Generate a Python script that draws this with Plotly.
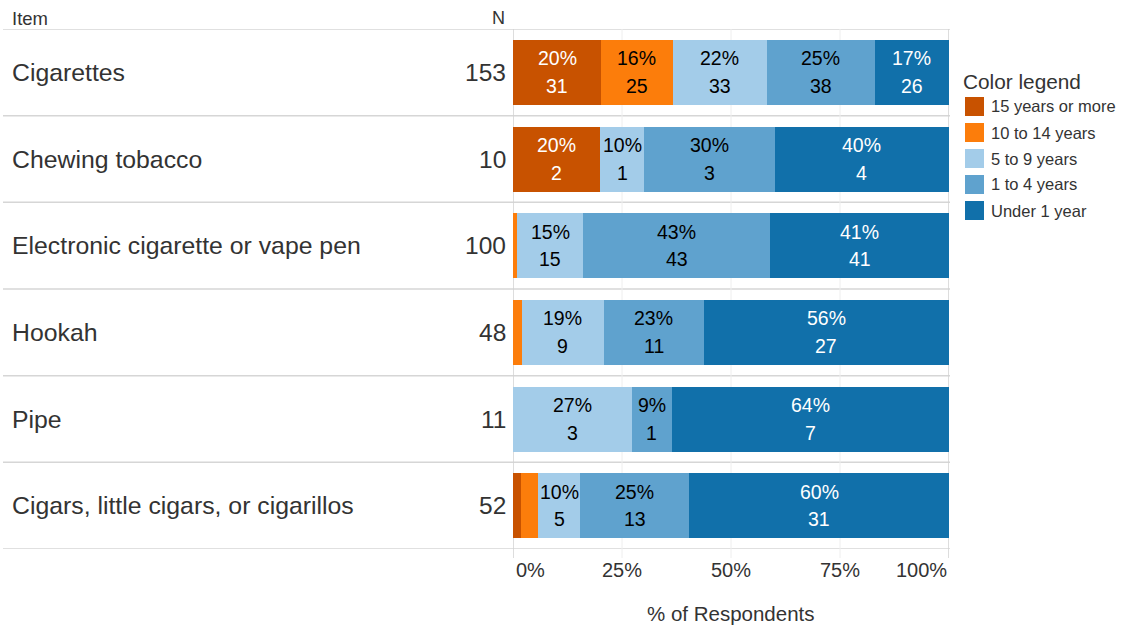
import plotly.graph_objects as go

# --- data -------------------------------------------------------------
items = [
    "Cigarettes",
    "Chewing tobacco",
    "Electronic cigarette or vape pen",
    "Hookah",
    "Pipe",
    "Cigars, little cigars, or cigarillos",
]
n_resp = [153, 10, 100, 48, 11, 52]

groups = ["15 years or more", "10 to 14 years", "5 to 9 years", "1 to 4 years", "Under 1 year"]
yrs_15_plus = [31, 2, 0, 0, 0, 1]
yrs_10_14 = [25, 0, 1, 1, 0, 2]
yrs_5_9 = [33, 1, 15, 9, 3, 5]
yrs_1_4 = [38, 3, 43, 11, 1, 13]
yrs_under_1 = [26, 4, 41, 27, 7, 31]

x_ticks = [0, 25, 50, 75, 100]
x_tick_text = ["0%", "25%", "50%", "75%", "100%"]

# --- styling ----------------------------------------------------------
colors = ["#c85200", "#fc7d0b", "#a3cce9", "#5fa2ce", "#1170aa"]
label_colors = ["#ffffff", "#000000", "#000000", "#000000", "#ffffff"]
FONT = "Liberation Sans, Arial, sans-serif"
TXT = "#333333"
W, H = 1123, 627


def px_x(p):
    return p / W


def px_y(p):
    return 1 - p / H


def note(**kw):
    kw.setdefault("showarrow", False)
    kw.setdefault("yanchor", "middle")
    kw.setdefault("xanchor", "center")
    return kw


series = [yrs_15_plus, yrs_10_14, yrs_5_9, yrs_1_4, yrs_under_1]

fig = go.Figure()
annotations = []
cum = [0.0] * len(items)
for g, vals, col, lcol in zip(groups, series, colors, label_colors):
    share = [v / n * 100 for v, n in zip(vals, n_resp)]
    fig.add_trace(go.Bar(
        y=items, x=share, orientation="h", name=g,
        marker=dict(color=col, line=dict(width=0)),
        width=0.75, showlegend=False,
        customdata=vals,
        hovertemplate="%{y}<br>" + g + ": %{x:.0f}% (%{customdata})<extra></extra>",
    ))
    for i, (s, v) in enumerate(zip(share, vals)):
        if s >= 5:
            xc = cum[i] + s / 2
            lab_font = dict(size=19.5, color=lcol, family=FONT)
            annotations.append(note(x=xc, y=items[i], xref="x", yref="y", text=f"{s:.0f}%",
                                    yshift=14, font=lab_font))
            annotations.append(note(x=xc, y=items[i], xref="x", yref="y", text=str(v),
                                    yshift=-13.5, font=lab_font))
        cum[i] += s

shapes = []
# row separators
for i in range(len(items) + 1):
    shapes.append(dict(type="line", xref="paper", yref="y", x0=px_x(3), x1=px_x(950),
                       y0=i - 0.5, y1=i - 0.5, line=dict(color="#d6d6d6", width=1.5),
                       layer="below"))
# vertical grid
for t in x_ticks:
    edge = t in (x_ticks[0], x_ticks[-1])
    shapes.append(dict(type="line", xref="x", yref="paper", x0=t, x1=t,
                       y0=px_y(558), y1=px_y(29),
                       line=dict(color="#d2d2d2" if edge else "#eeeeee", width=1.5 if edge else 1),
                       layer="below"))

# item names and N column
for it, n in zip(items, n_resp):
    annotations.append(note(x=px_x(10), y=it, xref="paper", yref="y", text=it, xanchor="left",
                            font=dict(size=24.8, color=TXT, family=FONT)))
    annotations.append(note(x=px_x(508), y=it, xref="paper", yref="y", text=str(n), xanchor="right",
                            font=dict(size=24.5, color=TXT, family=FONT)))

# column headers
annotations.append(note(x=px_x(10), y=px_y(18), xref="paper", yref="paper", text="Item",
                        xanchor="left", font=dict(size=18.5, color=TXT, family=FONT)))
annotations.append(note(x=px_x(507), y=px_y(18), xref="paper", yref="paper", text="N",
                        xanchor="right", font=dict(size=18, color=TXT, family=FONT)))

# x tick labels
for k, (t, lab) in enumerate(zip(x_ticks, x_tick_text)):
    if k == 0:
        anchor, shift = "left", 1
    elif k == len(x_ticks) - 1:
        anchor, shift = "right", 0
    else:
        anchor, shift = "center", 0
    annotations.append(note(x=t, y=px_y(570), xref="x", yref="paper", text=lab,
                            xanchor=anchor, xshift=shift, font=dict(size=20, color=TXT, family=FONT)))

# x axis title
annotations.append(note(x=50, y=px_y(613), xref="x", yref="paper", text="% of Respondents",
                        font=dict(size=20.5, color=TXT, family=FONT)))

# legend
annotations.append(note(x=px_x(961), y=px_y(81), xref="paper", yref="paper", text="Color legend",
                        xanchor="left", font=dict(size=20.8, color=TXT, family=FONT)))
for k, (g, col) in enumerate(zip(groups, colors)):
    yc = 106.5 + 26 * k
    shapes.append(dict(type="rect", xref="paper", yref="paper", x0=px_x(965), x1=px_x(984),
                       y0=px_y(yc + 9.5), y1=px_y(yc - 9.5), fillcolor=col, line=dict(width=0)))
    annotations.append(note(x=px_x(989), y=px_y(yc), xref="paper", yref="paper", text=g,
                            xanchor="left", font=dict(size=16.5, color=TXT, family=FONT)))

fig.update_layout(
    width=W, height=H, margin=dict(l=0, r=0, t=0, b=0),
    paper_bgcolor="white", plot_bgcolor="white",
    barmode="stack", shapes=shapes, annotations=annotations,
    font=dict(family=FONT, color=TXT),
    xaxis=dict(domain=[px_x(513), px_x(949)], range=[0, 100], showgrid=False, zeroline=False,
               showticklabels=False, ticks="", fixedrange=True),
    yaxis=dict(domain=[px_y(549), px_y(29)], type="category", categoryorder="array",
               categoryarray=items, range=[len(items) - 0.5, -0.5], visible=False, fixedrange=True),
)

fig.write_html("out.html")
